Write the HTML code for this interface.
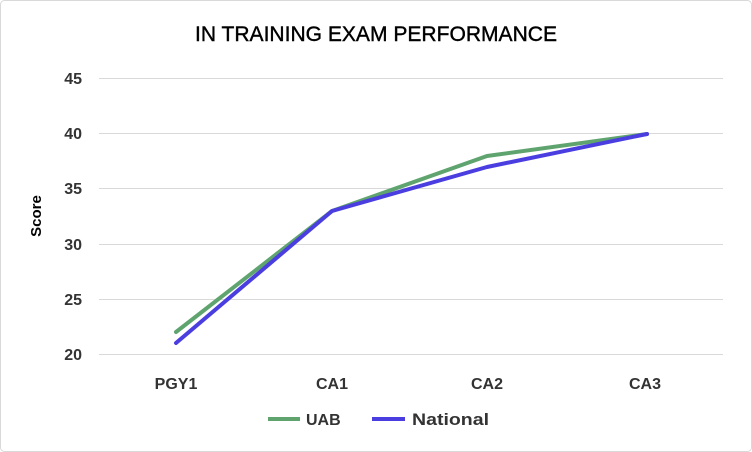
<!DOCTYPE html>
<html><head><meta charset="utf-8"><style>
html,body{margin:0;padding:0;background:#fff;}
svg{display:block;font-family:"Liberation Sans",sans-serif;}
</style></head><body>
<svg width="752" height="452" viewBox="0 0 752 452" xmlns="http://www.w3.org/2000/svg">
<rect x="0.5" y="0.5" width="751" height="451" rx="4" fill="#fff" stroke="#d9d9d9"/>
<text x="376" y="41" text-anchor="middle" font-size="21" fill="#000" stroke="#000" stroke-width="0.4" textLength="362" lengthAdjust="spacingAndGlyphs">IN TRAINING EXAM PERFORMANCE</text>
<g stroke="#d9d9d9" stroke-width="1">
<line x1="99" x2="723" y1="78.5" y2="78.5"/>
<line x1="99" x2="723" y1="133.5" y2="133.5"/>
<line x1="99" x2="723" y1="188.5" y2="188.5"/>
<line x1="99" x2="723" y1="244.5" y2="244.5"/>
<line x1="99" x2="723" y1="299.5" y2="299.5"/>
<line x1="99" x2="723" y1="354.5" y2="354.5"/>
</g>
<g font-size="16" font-weight="bold" fill="#333" text-anchor="end">
<text x="82" y="84">45</text>
<text x="82" y="139">40</text>
<text x="82" y="194">35</text>
<text x="82" y="250">30</text>
<text x="82" y="305">25</text>
<text x="82" y="360">20</text>
</g>
<text transform="translate(41,216) rotate(-90)" text-anchor="middle" font-size="15" font-weight="bold" fill="#000">Score</text>
<g font-size="16" font-weight="bold" fill="#333" text-anchor="middle">
<text x="176" y="389">PGY1</text>
<text x="332" y="389">CA1</text>
<text x="487" y="389">CA2</text>
<text x="645" y="389">CA3</text>
</g>
<polyline points="176,332 332,211 487,156 647,134" fill="none" stroke="#5fa46f" stroke-width="4" stroke-linejoin="round" stroke-linecap="round"/>
<polyline points="176,343 332,211 487,167 647,134" fill="none" stroke="#4a3ee0" stroke-width="4" stroke-linejoin="round" stroke-linecap="round"/>
<line x1="268" x2="300" y1="419" y2="419" stroke="#5fa46f" stroke-width="4"/>
<text x="306" y="425" font-size="16" font-weight="bold" fill="#333">UAB</text>
<line x1="372" x2="405" y1="419" y2="419" stroke="#4a3ee0" stroke-width="4"/>
<text x="412" y="425" font-size="17" font-weight="bold" fill="#333" textLength="77" lengthAdjust="spacingAndGlyphs">National</text>
</svg>
</body></html>
